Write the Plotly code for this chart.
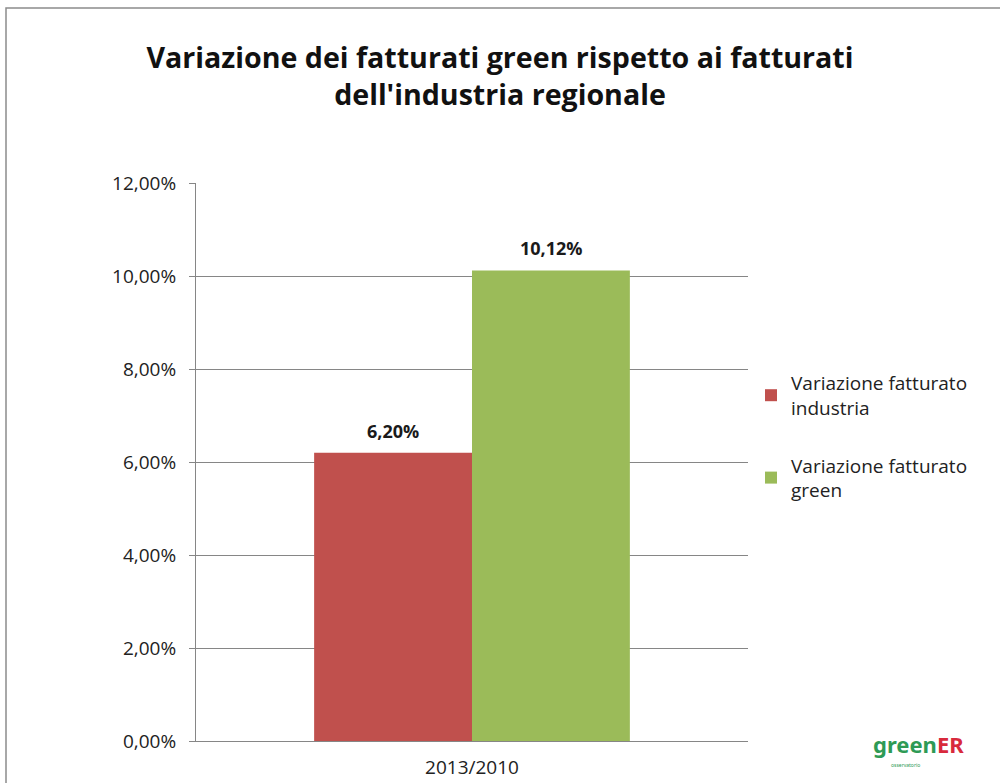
import plotly.graph_objects as go

# Data
categories = ["2013/2010"]
series_names = ["Variazione fatturato<br>industria", "Variazione fatturato<br>green"]
industria = [0.0620]
green = [0.1012]

RED = "#C0504D"
GREEN = "#9BBB59"
AXIS_GREY = "#868686"
FONT = "Open Sans, Noto Sans, sans-serif"

# plot area in pixels (from the reference)
L, R, T, B = 196, 748, 183, 741
W, H = 1000, 783


def px_x(p):
    return (p - L) / (R - L)


def px_y(p):
    return (B - p) / (B - T)


fig = go.Figure()
series = [(series_names[0], industria, RED, -79), (series_names[1], green, GREEN, 79)]
for name, vals, col, shift in series:
    fig.add_trace(go.Bar(
        x=categories,
        y=vals,
        name=name,
        marker=dict(color=col, line=dict(width=0)),
        legendgroup=name,
        hoverinfo="y",
    ))
    # value labels sitting above each bar
    for cat, v in zip(categories, vals):
        fig.add_annotation(
            x=cat, y=v, xref="x", yref="y",
            text="<b>" + f"{v * 100:.2f}".replace(".", ",") + "%</b>",
            showarrow=False,
            xshift=shift, yshift=8,
            yanchor="bottom", xanchor="center",
            font=dict(size=18, color="#1a1a1a", family=FONT),
        )

fig.update_layout(
    width=W,
    height=H,
    paper_bgcolor="white",
    plot_bgcolor="white",
    separators=",.",
    barmode="group",
    bargap=0.428,
    bargroupgap=0,
    font=dict(family=FONT, color="#222222"),
    margin=dict(l=L, r=W - R, t=T, b=H - B),
    title=dict(
        text="<b>Variazione dei fatturati green rispetto ai fatturati<br>dell'industria regionale</b>",
        x=0.5,
        xanchor="center",
        y=1 - 68 / H,
        yanchor="middle",
        font=dict(size=28.6, color="#111111", family=FONT),
    ),
    legend=dict(
        x=px_x(751),
        y=px_y(364),
        xanchor="left",
        yanchor="top",
        font=dict(size=19, color="#222222", family=FONT),
        tracegroupgap=30,
        traceorder="grouped",
        itemwidth=30,
    ),
    showlegend=True,
)

fig.update_yaxes(
    range=[0, 0.12],
    dtick=0.02,
    tickformat=".2%",
    showgrid=True,
    gridcolor=AXIS_GREY,
    gridwidth=1,
    showline=True,
    linecolor=AXIS_GREY,
    linewidth=1,
    ticks="outside",
    ticklen=6,
    tickcolor=AXIS_GREY,
    ticklabelstandoff=9,
    tickfont=dict(size=19, color="#222222", family=FONT),
    zeroline=False,
    automargin=False,
)
fig.update_xaxes(
    showline=True,
    linecolor=AXIS_GREY,
    linewidth=1,
    ticklabelstandoff=9,
    tickfont=dict(size=19, color="#222222", family=FONT),
    showgrid=False,
    automargin=False,
)

# chart border (runs off the right and bottom edges in the reference)
fig.add_shape(
    type="rect", xref="paper", yref="paper",
    x0=px_x(6), x1=px_x(1010), y0=px_y(800), y1=px_y(8),
    line=dict(color="#8c8c8c", width=1.5),
    layer="below",
)

# greenER logo
fig.add_annotation(
    xref="paper", yref="paper",
    x=px_x(918), y=px_y(744),
    text="<b><span style='color:#2E9A55'>green</span><span style='color:#D82A3C'>ER</span></b>",
    showarrow=False,
    font=dict(size=22, family="Noto Sans, sans-serif"),
    xanchor="center", yanchor="middle",
)
fig.add_annotation(
    xref="paper", yref="paper",
    x=px_x(905), y=px_y(765),
    text="osservatorio",
    showarrow=False,
    font=dict(size=5, color="#2E9A55", family="Noto Sans, sans-serif"),
    xanchor="center", yanchor="middle",
)

fig.write_html(
    "out.html",
    config={"displayModeBar": False},
    post_script="document.body.style.margin='0px';",
)
